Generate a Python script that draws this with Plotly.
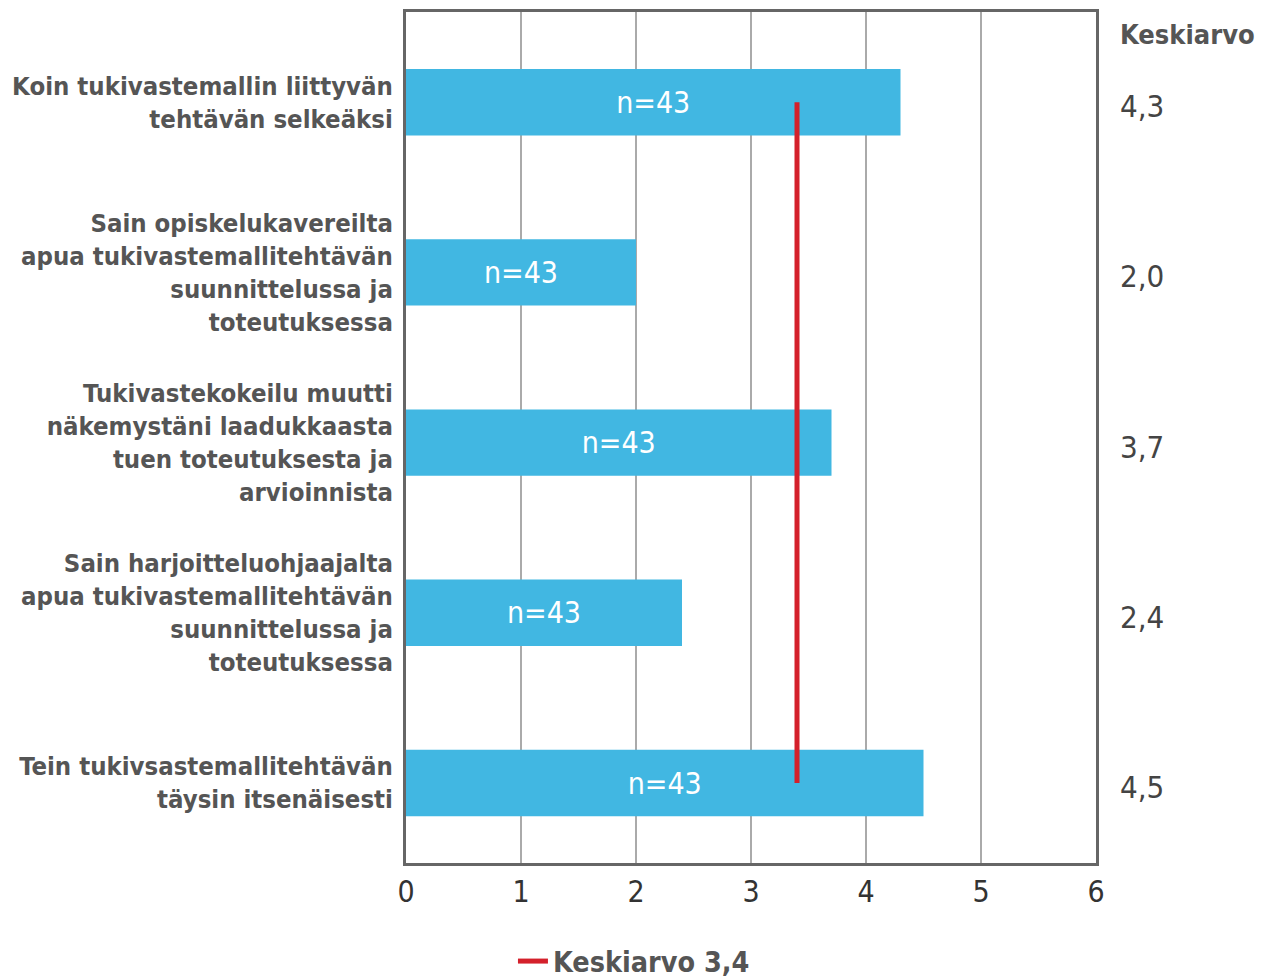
import plotly.graph_objects as go

categories = [
    "Koin tukivastemallin liittyvän<br>tehtävän selkeäksi",
    "Sain opiskelukavereilta<br>apua tukivastemallitehtävän<br>suunnittelussa ja<br>toteutuksessa",
    "Tukivastekokeilu muutti<br>näkemystäni laadukkaasta<br>tuen toteutuksesta ja<br>arvioinnista",
    "Sain harjoitteluohjaajalta<br>apua tukivastemallitehtävän<br>suunnittelussa ja<br>toteutuksessa",
    "Tein tukivsastemallitehtävän<br>täysin itsenäisesti",
]
values = [4.3, 2.0, 3.7, 2.4, 4.5]
value_labels = ["4,3", "2,0", "3,7", "2,4", "4,5"]
n_labels = ["n=43"] * 5
mean_value = 3.4
mean_label = "Keskiarvo 3,4"
right_header = "Keskiarvo"
x_ticks = [0, 1, 2, 3, 4, 5, 6]

FONT = "DejaVu Sans Condensed"

fig = go.Figure()
fig.add_trace(go.Bar(
    y=categories, x=values, orientation="h",
    marker=dict(color="#41b7e2", line=dict(width=0)),
    width=0.39,
    text=n_labels, textposition="inside", insidetextanchor="middle",
    textfont=dict(family=FONT, size=30, color="white"),
    showlegend=False, hoverinfo="skip",
))
fig.add_trace(go.Scatter(
    x=[mean_value, mean_value], y=[categories[0], categories[-1]],
    mode="lines", line=dict(color="#d4202b", width=5),
    name=mean_label, showlegend=True, hoverinfo="skip",
))

for cat, lab in zip(categories, value_labels):
    fig.add_annotation(
        x=1.0, xref="paper", xshift=22, y=cat, yref="y", yshift=-4,
        text=lab, showarrow=False, xanchor="left",
        font=dict(family=FONT, size=31, color="#444"),
    )
fig.add_annotation(
    x=1.0, xref="paper", xshift=22, y=1.0, yref="paper", yshift=-22,
    text="<b>" + right_header + "</b>", showarrow=False, xanchor="left", yanchor="middle",
    font=dict(family=FONT, size=27, color="#555"),
)

fig.update_layout(
    width=1279, height=978,
    margin=dict(l=398, r=191, t=4, b=123, autoexpand=False),
    paper_bgcolor="white", plot_bgcolor="white",
    xaxis=dict(
        range=[0, 6], tickvals=x_ticks, ticktext=[str(t) for t in x_ticks],
        showgrid=True, gridcolor="#aaaaaa", gridwidth=2,
        showline=True, linecolor="#666666", linewidth=3, mirror=True,
        zeroline=False, ticks="", automargin=False,
        tickfont=dict(family=FONT, size=30, color="#333"),
    ),
    yaxis=dict(
        autorange=False, range=[4.47, -0.53], type="category",
        categoryorder="array", categoryarray=categories,
        showline=True, linecolor="#666666", linewidth=3, mirror=True,
        showgrid=False, zeroline=False, ticks="", ticklabelstandoff=5,
        automargin=False,
        tickfont=dict(family=FONT, size=25.5, color="#555555", weight="bold"),
    ),
    legend=dict(
        orientation="h", x=0.155, xanchor="left", y=0.025, yanchor="middle",
        yref="container",
        font=dict(family=FONT, size=28.5, color="#555555", weight="bold"),
    ),
    showlegend=True,
)

fig.write_html("out.html")
